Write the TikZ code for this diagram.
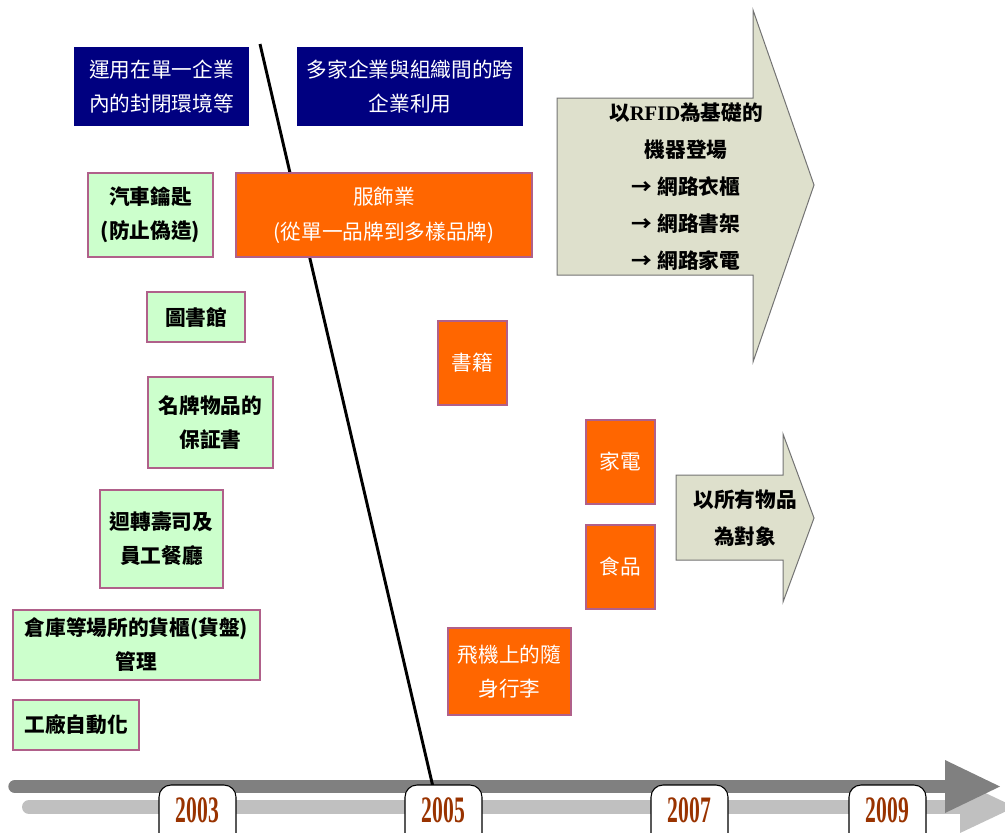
\documentclass[tikz,border=0pt]{standalone}
\usepackage{fontspec}
\setmainfont{Liberation Serif}
\newfontfamily\cjk{Noto Sans CJK TC}
\definecolor{navyc}{HTML}{000080}
\definecolor{greenc}{HTML}{CCFFCC}
\definecolor{boxborder}{HTML}{B0608A}
\definecolor{orangec}{HTML}{FF6600}
\definecolor{arrowc}{HTML}{DEE0CC}
\definecolor{tldark}{HTML}{808080}
\definecolor{tllight}{HTML}{C0C0C0}
\definecolor{yearc}{HTML}{993300}
\newcommand\mkbox[7]{\node[#1, minimum width={(#4-#2)*0.75pt}, minimum height={(#5-#3)*0.75pt}] (#6) at ({(#2+#4)/2},{(#3+#5)/2}) {#7};}
\tikzset{
  navybox/.style={fill=navyc, draw=none, text=white, inner sep=0pt, align=center,
    font=\cjk\fontsize{15.5}{25.5}\selectfont},
  greenbox/.style={fill=greenc, draw=boxborder, line width=1.1pt, text=black, inner sep=0pt, align=center,
    font=\cjk\bfseries\fontsize{15.5}{25.5}\selectfont},
  orangebox/.style={fill=orangec, draw=boxborder, line width=0.8pt, text=white, inner sep=0pt, align=center,
    font=\cjk\fontsize{15.5}{26}\selectfont},
  bigarrow/.style={fill=arrowc, draw=black!55, line width=0.75pt},
  arrowtext/.style={align=center, inner sep=0pt, text=black, font=\cjk\bfseries\fontsize{15.5}{27.75}\selectfont},
  yearbox/.style={fill=white, draw=black, line width=0.8pt, rounded corners=9pt, inner sep=0pt,
    text height=27.75pt, text depth=21pt, minimum width=57.75pt, text=yearc,
    font=\rmfamily\bfseries\fontsize{28}{28}\selectfont},
  divider/.style={line width=2.2pt, black},
  tlshaftdark/.style={tldark, line width=10pt, line cap=round},
  tlshaftlight/.style={tllight, line width=10.5pt, line cap=round}
}
\begin{document}
\begin{tikzpicture}[x=0.75pt,y=-0.75pt]
\useasboundingbox (0,0) rectangle (1005,832);
\clip (0,0) rectangle (1005,832);

% timeline arrows
\coordinate (l1) at (29,807);
\coordinate (l2) at (962,807);
\draw[tlshaftlight] (l1) -- (l2);
\fill[tllight] (960,781) -- (1015,807) -- (960,833) -- cycle;
\coordinate (d1) at (15,786.5);
\coordinate (d2) at (946,786.5);
\draw[tlshaftdark] (d1) -- (d2);
\fill[tldark] (945,760) -- (1000,786.5) -- (945,813) -- cycle;

% divider line
\coordinate (ltop) at (260,44);
\coordinate (lbot) at (433,787);
\draw[divider] (ltop) -- (lbot);

% header boxes
\mkbox{navybox}{74}{47}{249}{126}{nav1}{運用在單一企業\\內的封閉環境等}
\mkbox{navybox}{297}{47}{523}{126}{nav2}{多家企業與組織間的跨\\企業利用}

% green boxes
\mkbox{greenbox}{88}{173}{213}{257}{g1}{汽車鑰匙\\(防止偽造)}
\mkbox{greenbox}{147}{292}{245}{342}{g2}{圖書館}
\mkbox{greenbox}{148}{377}{273}{468}{g3}{名牌物品的\\保証書}
\mkbox{greenbox}{100}{490}{223}{588}{g4}{迴轉壽司及\\員工餐廳}
\mkbox{greenbox}{13}{610}{260}{680}{g5}{倉庫等場所的貨櫃(貨盤)\\管理}
\mkbox{greenbox}{13}{700}{139}{750}{g6}{工廠自動化}

% orange boxes
\mkbox{orangebox}{236}{173}{532}{257}{o1}{服飾業\\(從單一品牌到多樣品牌)}
\mkbox{orangebox}{438}{321}{507}{405}{o2}{書籍}
\mkbox{orangebox}{586}{420}{655}{504}{o3}{家電}
\mkbox{orangebox}{586}{525}{655}{609}{o4}{食品}
\mkbox{orangebox}{448}{628}{571}{715}{o5}{飛機上的隨\\身行李}

% big arrows
\draw[bigarrow] (557,98) -- (753,98) -- (753,10) -- (814,185) -- (753,362) -- (753,275) -- (557,275) -- cycle;
\node[arrowtext] (bigtxt) at (686,187) {以{\rmfamily\bfseries RFID}為基礎的\\機器登場\\→ 網路衣櫃\\→ 網路書架\\→ 網路家電};
\draw[bigarrow] (676,475) -- (783,475) -- (783,434) -- (814,518) -- (783,602) -- (783,560) -- (676,560) -- cycle;
\node[arrowtext] (smalltxt) at (745,518) {以所有物品\\為對象};

% year labels
\node[yearbox, anchor=base] (y2003) at (197.5,822) {\scalebox{0.58}[1]{2003}};
\node[yearbox, anchor=base] (y2005) at (443.5,822) {\scalebox{0.58}[1]{2005}};
\node[yearbox, anchor=base] (y2007) at (689.5,822) {\scalebox{0.58}[1]{2007}};
\node[yearbox, anchor=base] (y2009) at (887.5,822) {\scalebox{0.58}[1]{2009}};
\end{tikzpicture}
\end{document}
